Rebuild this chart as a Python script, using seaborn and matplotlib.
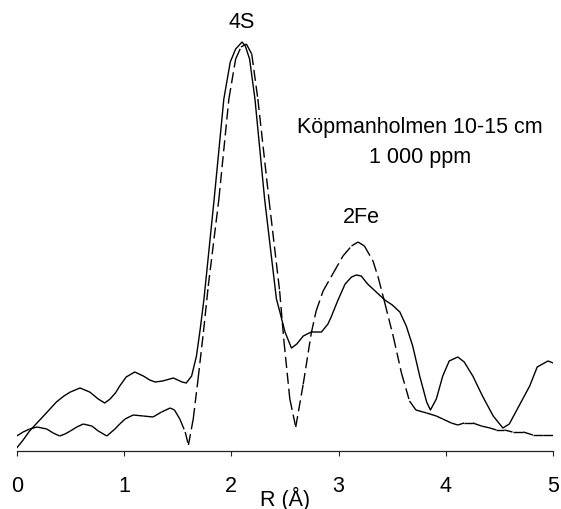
import numpy as np
import pandas as pd
import matplotlib
matplotlib.use("Agg")
import matplotlib.pyplot as plt
from matplotlib.collections import LineCollection
import seaborn as sns

# Experimental FT magnitude (solid line)
r_exp = [0.00, 0.06, 0.12, 0.18, 0.25, 0.31, 0.37, 0.44, 0.50, 0.59, 0.68, 0.76, 0.82, 0.87,
         0.92, 0.96, 1.02, 1.10, 1.18, 1.24, 1.29, 1.36, 1.46, 1.54, 1.58, 1.63, 1.675, 1.71,
         1.745, 1.84, 1.93, 1.99, 2.04, 2.10, 2.13, 2.17, 2.22, 2.31, 2.42, 2.45, 2.50, 2.56,
         2.61, 2.67, 2.745, 2.84, 2.90, 2.93, 2.99, 3.06, 3.12, 3.165, 3.21, 3.27, 3.35, 3.43,
         3.50, 3.57, 3.63, 3.69, 3.755, 3.82, 3.855, 3.91, 3.97, 4.03, 4.11, 4.17, 4.25, 4.34,
         4.44, 4.53, 4.59, 4.68, 4.78, 4.85, 4.95, 5.00]
v_exp = [3, 11, 20, 27, 35, 42, 49, 55, 59, 63, 59, 52, 48, 52,
         58, 65, 74, 79, 75, 71, 69, 70, 73, 69, 68, 75, 95, 122,
         152, 252, 352, 389, 402, 409, 405, 392, 352, 252, 152, 140, 119, 103,
         107, 115, 119, 119, 127, 134, 150, 167, 174, 176, 175, 167, 159, 151,
         146, 139, 125, 105, 75, 49, 41, 52, 75, 90, 94, 89, 75, 55,
         35, 23, 27, 45, 65, 84, 90, 88]

# Fitted FT magnitude (dashed line)
r_fit = [0.00, 0.06, 0.12, 0.19, 0.28, 0.34, 0.40, 0.45, 0.50, 0.56, 0.62, 0.70, 0.76, 0.84,
         0.915, 0.96, 1.01, 1.085, 1.18, 1.27, 1.35, 1.43, 1.47, 1.52, 1.57, 1.60, 1.645, 1.69,
         1.74, 1.785, 1.884, 1.977, 2.04, 2.09, 2.14, 2.19, 2.247, 2.35, 2.45, 2.49, 2.545, 2.60,
         2.67, 2.745, 2.79, 2.855, 2.95, 3.04, 3.12, 3.18, 3.24, 3.32, 3.37, 3.43, 3.51, 3.585,
         3.66, 3.72, 3.82, 3.91, 3.97, 4.05, 4.11, 4.17, 4.25, 4.33, 4.41, 4.47, 4.545, 4.62,
         4.72, 4.81, 4.90, 5.00]
v_fit = [15, 19, 22, 24, 22, 18, 15, 17, 20, 24, 27, 25, 20, 15,
         22, 27, 32, 36, 35, 34, 39, 43, 41, 32, 19, 6, 32, 72,
         119, 165, 252, 352, 392, 404, 407, 397, 352, 252, 160, 110, 52, 24,
         67, 118, 140, 160, 178, 195, 205, 209, 205, 190, 173, 148, 114, 78,
         50, 41, 38, 35, 32, 28, 26, 28, 28, 25, 23, 21, 21, 19,
         19, 16, 16, 16]

x_ticks = [0, 1, 2, 3, 4, 5]
x_label = "R (Å)"
peak_labels = ["4S", "2Fe"]
title_lines = ["Köpmanholmen 10-15 cm", "1 000 ppm"]

sns.set_theme(style="white")
plt.rcParams["font.family"] = ["Liberation Sans", "DejaVu Sans"]
plt.rcParams["text.color"] = "black"
plt.rcParams["axes.labelcolor"] = "black"
plt.rcParams["xtick.color"] = "black"

fig = plt.figure(figsize=(5.61, 5.10), dpi=100)
ax = fig.add_axes([16.7 / 561, 1 - 452 / 510, (553.3 - 16.7) / 561, 420 / 510])

df_exp = pd.DataFrame({"R": r_exp, "FT": v_exp})
sns.lineplot(data=df_exp, x="R", y="FT", ax=ax, color="black", linewidth=1.0,
             estimator=None, sort=False)

pts = np.column_stack([r_fit, v_fit])
segs = np.stack([pts[:-1], pts[1:]], axis=1)
lc = LineCollection(segs, colors="black", linewidths=1.0, linestyles=[(0, (8, 3.5))])
ax.add_collection(lc)

ax.set_xlim(0, 5)
ax.set_ylim(0, 420)
ax.set_xticks(x_ticks)
ax.set_xticklabels([str(t) for t in x_ticks], fontsize=15.5, color="black")
ax.set_yticks([])
ax.set_ylabel("")
ax.set_xlabel(x_label, fontsize=15.5, color="black")
ax.xaxis.set_label_coords(0.5, -0.083)

for s in ["left", "right", "top"]:
    ax.spines[s].set_visible(False)
ax.spines["bottom"].set_color("#222222")
ax.spines["bottom"].set_linewidth(0.9)
ax.tick_params(axis="x", direction="out", length=3.8, width=0.8, color="#222222",
               pad=13.5, bottom=True, labelcolor="black")

ax.text(2.095, 423.7, peak_labels[0], ha="center", va="baseline", fontsize=15.5, color="black")
ax.text(3.21, 228.5, peak_labels[1], ha="center", va="baseline", fontsize=15.5, color="black")
ax.text(3.76, 318.7, title_lines[0], ha="center", va="baseline", fontsize=15.5, color="black")
ax.text(3.76, 289.3, title_lines[1], ha="center", va="baseline", fontsize=15.5, color="black")

fig.savefig("out.png", dpi=100)
